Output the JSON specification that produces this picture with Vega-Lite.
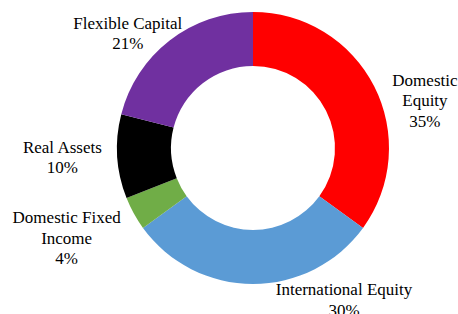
{
  "$schema": "https://vega.github.io/schema/vega-lite/v6.json",
  "autosize": "none",
  "width": 272,
  "height": 272,
  "padding": {"left": 117, "top": 12, "right": 69, "bottom": 30},
  "background": "white",
  "config": {"text": {"font": "Liberation Serif, Times New Roman, serif", "fontSize": 17, "lineHeight": 20.5, "lineBreak": "\n", "align": "center", "baseline": "middle", "color": "black", "radius": 175}},
  "data": {
    "values": [
      {"idx": 1, "category": "Domestic Equity", "value": 35, "label": "Domestic\nEquity\n35%"},
      {"idx": 2, "category": "International Equity", "value": 30, "label": "International Equity\n30%"},
      {"idx": 3, "category": "Domestic Fixed Income", "value": 4, "label": "Domestic Fixed\nIncome\n4%"},
      {"idx": 4, "category": "Real Assets", "value": 10, "label": "Real Assets\n10%"},
      {"idx": 5, "category": "Flexible Capital", "value": 21, "label": "Flexible Capital\n21%"}
    ]
  },
  "transform": [
    {"stack": "value", "groupby": [], "sort": [{"field": "idx", "order": "ascending"}], "as": ["v0", "v1"]},
    {"calculate": "(datum.v0 + datum.v1) / 2", "as": "mid"}
  ],
  "layer": [
    {
      "mark": {"type": "arc", "outerRadius": 136, "innerRadius": 82},
      "encoding": {
        "theta": {"field": "v0", "type": "quantitative", "scale": {"domain": [0, 100]}},
        "theta2": {"field": "v1"},
        "color": {
          "field": "category",
          "type": "nominal",
          "scale": {
            "domain": ["Domestic Equity", "International Equity", "Domestic Fixed Income", "Real Assets", "Flexible Capital"],
            "range": ["#FF0000", "#5B9BD5", "#70AD47", "#000000", "#7030A0"]
          },
          "legend": null
        }
      }
    },
    {
      "transform": [{"filter": "datum.category == 'Domestic Equity'"}],
      "mark": {"type": "text", "font": "Liberation Serif, Times New Roman, serif", "dx": 16, "dy": 12},
      "encoding": {"theta": {"field": "mid", "type": "quantitative", "scale": {"domain": [0, 100]}}, "text": {"field": "label"}}
    },
    {
      "transform": [{"filter": "datum.category == 'International Equity'"}],
      "mark": {"type": "text", "font": "Liberation Serif, Times New Roman, serif", "dx": 91, "dy": -33},
      "encoding": {"theta": {"field": "mid", "type": "quantitative", "scale": {"domain": [0, 100]}}, "text": {"field": "label"}}
    },
    {
      "transform": [{"filter": "datum.category == 'Domestic Fixed Income'"}],
      "mark": {"type": "text", "font": "Liberation Serif, Times New Roman, serif", "dx": -33, "dy": -14},
      "encoding": {"theta": {"field": "mid", "type": "quantitative", "scale": {"domain": [0, 100]}}, "text": {"field": "label"}}
    },
    {
      "transform": [{"filter": "datum.category == 'Real Assets'"}],
      "mark": {"type": "text", "font": "Liberation Serif, Times New Roman, serif", "dx": -16, "dy": -11},
      "encoding": {"theta": {"field": "mid", "type": "quantitative", "scale": {"domain": [0, 100]}}, "text": {"field": "label"}}
    },
    {
      "transform": [{"filter": "datum.category == 'Flexible Capital'"}],
      "mark": {"type": "text", "font": "Liberation Serif, Times New Roman, serif", "dx": -18, "dy": 14},
      "encoding": {"theta": {"field": "mid", "type": "quantitative", "scale": {"domain": [0, 100]}}, "text": {"field": "label"}}
    }
  ]
}
